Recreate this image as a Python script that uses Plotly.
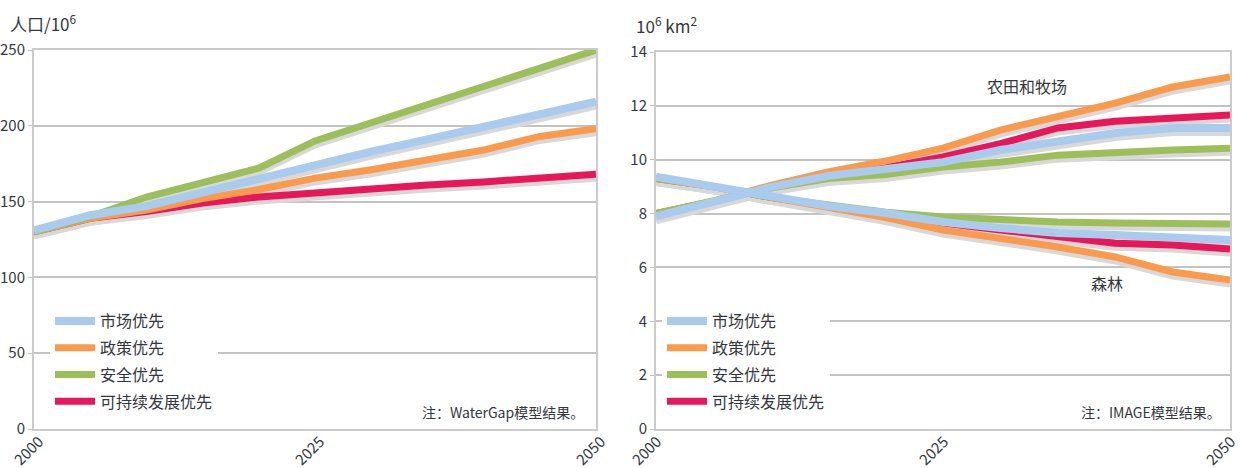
import base64
import plotly.graph_objects as go

# ---------------- data ----------------
years = [2000, 2005, 2010, 2015, 2020, 2025, 2030, 2035, 2040, 2045, 2050]
scenario_names = ["市场优先", "政策优先", "安全优先", "可持续发展优先"]

# left: population (10^6)
pop_market = [131, 141, 147, 156, 165, 175, 183, 191, 199, 207, 216]
pop_policy = [130, 139, 144.5, 152, 158, 165.5, 171, 177, 184, 193, 198]
pop_security = [130, 140, 153, 162, 172, 190, 202, 213, 225, 237, 250]
pop_sustain = [130, 139, 143.5, 149, 153, 156, 158.5, 161, 163, 165.5, 168]

# right: land area (10^6 km2)
crop_market = [7.9, 8.45, 8.98, 9.4, 9.65, 9.91, 10.36, 10.66, 10.99, 11.18, 11.18]
crop_policy = [8.0, 8.45, 9.05, 9.55, 9.95, 10.43, 11.1, 11.6, 12.1, 12.7, 13.07]
crop_security = [8.0, 8.45, 8.95, 9.3, 9.45, 9.73, 9.91, 10.17, 10.29, 10.36, 10.43]
crop_sustain = [8.0, 8.45, 8.98, 9.45, 9.7, 10.1, 10.6, 11.18, 11.43, 11.55, 11.66]

forest_market = [9.37, 9.0, 8.6, 8.28, 8.02, 7.69, 7.46, 7.28, 7.2, 7.13, 7.02]
forest_policy = [9.3, 9.0, 8.6, 8.22, 7.85, 7.39, 7.09, 6.76, 6.39, 5.83, 5.53]
forest_security = [9.3, 9.0, 8.6, 8.3, 8.05, 7.87, 7.76, 7.69, 7.65, 7.61, 7.61]
forest_sustain = [9.3, 9.0, 8.6, 8.28, 7.98, 7.65, 7.39, 7.13, 6.9, 6.83, 6.68]

x_ticks = [2000, 2025, 2050]
left_yticks = [0, 50, 100, 150, 200, 250]
right_yticks = [0, 2, 4, 6, 8, 10, 12, 14]
shade_start, shade_end = 2007, 2021

# ---------------- styles ----------------
COLORS = {"市场优先": "#a9cbee", "政策优先": "#f99a4c",
          "安全优先": "#9dbf5a", "可持续发展优先": "#e8175a"}
WIDTHS = {"市场优先": 8, "政策优先": 7, "安全优先": 7, "可持续发展优先": 7}
SHADOW = "#d8d8d8"
FONT = "Noto Sans CJK SC, sans-serif"
TXT = "#333840"
GRID = "#c3c3c3"
BORDER = "#cbcbcb"
W, H = 1240, 468
SHADOW_PX = 4

left_dom = [34 / W, 596 / W]
right_dom = [656 / W, 1230 / W]
left_ydom = [(H - 429) / H, (H - 50) / H]
right_ydom = [(H - 429) / H, (H - 52) / H]

fig = go.Figure()

draw_order = ["可持续发展优先", "政策优先", "安全优先", "市场优先"]
left_series = dict(zip(scenario_names, [pop_market, pop_policy, pop_security, pop_sustain]))
crop_series = dict(zip(scenario_names, [crop_market, crop_policy, crop_security, crop_sustain]))
forest_series = dict(zip(scenario_names, [forest_market, forest_policy, forest_security, forest_sustain]))

# shadows (on hidden, shifted axes)
for name in draw_order:
    fig.add_trace(go.Scatter(x=years, y=left_series[name], mode="lines", xaxis="x", yaxis="y",
                             line=dict(color=SHADOW, width=WIDTHS[name]), showlegend=False, hoverinfo="skip"))
    for ser in (crop_series, forest_series):
        fig.add_trace(go.Scatter(x=years, y=ser[name], mode="lines", xaxis="x2", yaxis="y2",
                                 line=dict(color=SHADOW, width=WIDTHS[name]), showlegend=False, hoverinfo="skip"))

# main lines
legend_order = {n: i for i, n in enumerate(scenario_names)}
for name in draw_order:
    fig.add_trace(go.Scatter(x=years, y=left_series[name], mode="lines", xaxis="x", yaxis="y3",
                             name=name, line=dict(color=COLORS[name], width=WIDTHS[name]),
                             legend="legend", legendgroup="L" + name, legendrank=legend_order[name]))
    fig.add_trace(go.Scatter(x=years, y=forest_series[name], mode="lines", xaxis="x2", yaxis="y4",
                             name=name, line=dict(color=COLORS[name], width=WIDTHS[name]),
                             showlegend=False, legendgroup="R" + name, legend="legend2"))
    fig.add_trace(go.Scatter(x=years, y=crop_series[name], mode="lines", xaxis="x2", yaxis="y4",
                             name=name, line=dict(color=COLORS[name], width=WIDTHS[name]),
                             legend="legend2", legendgroup="R" + name, legendrank=legend_order[name]))

# gradient band image
svg = ('<svg xmlns="http://www.w3.org/2000/svg" width="200" height="20" viewBox="0 0 200 20" '
       'preserveAspectRatio="none"><defs><linearGradient id="g" x1="0" x2="1" y1="0" y2="0">'
       '<stop offset="0" stop-color="#d7d8da"/><stop offset="0.45" stop-color="#e8e9ea"/>'
       '<stop offset="0.8" stop-color="#f6f6f6"/><stop offset="1" stop-color="#ffffff"/>'
       '</linearGradient></defs><rect width="200" height="20" fill="url(#g)"/></svg>')
src = "data:image/svg+xml;base64," + base64.b64encode(svg.encode()).decode()
images = []
for xr, yr in (("x", "y3"), ("x2", "y4")):
    images.append(dict(source=src, xref=xr, yref=yr + " domain", x=shade_start, y=1,
                       sizex=shade_end - shade_start, sizey=1, xanchor="left", yanchor="top",
                       sizing="stretch", layer="below"))

xcommon = dict(range=[2000, 2050], tickvals=x_ticks, tickangle=-45, showgrid=False,
               showline=True, linecolor=BORDER, linewidth=2, mirror=True, ticks="",
               tickfont=dict(family=FONT, size=15, color=TXT), zeroline=False,
               ticklabelstandoff=-4, ticklabeloverflow="allow",
               fixedrange=True, automargin=False)
ycommon = dict(showgrid=True, gridcolor=GRID, gridwidth=1.5, showline=True, linecolor=BORDER,
               linewidth=2, mirror=True, ticks="outside", ticklen=4, tickcolor=GRID,
               tickfont=dict(family=FONT, size=15, color=TXT), zeroline=False,
               fixedrange=True, automargin=False)

left_shift = SHADOW_PX * 250 / (379)
right_shift = SHADOW_PX * 14 / (377)

legend_common = dict(xanchor="left", yanchor="top", bgcolor="white", borderwidth=0,
                     font=dict(family=FONT, size=16, color=TXT), traceorder="grouped",
                     tracegroupgap=3, itemclick=False, itemdoubleclick=False, itemwidth=40)

fig.update_layout(
    template="none",
    width=W, height=H, margin=dict(l=0, r=0, t=0, b=0, pad=0, autoexpand=False),
    paper_bgcolor="white", plot_bgcolor="white", showlegend=True,
    xaxis=dict(domain=left_dom, anchor="y3", ticklabelshift=5, **xcommon),
    xaxis2=dict(domain=right_dom, anchor="y4", ticklabelshift=1, **xcommon),
    yaxis=dict(domain=left_ydom, range=[left_shift, 250 + left_shift], visible=False,
               anchor="x", fixedrange=True, automargin=False),
    yaxis2=dict(domain=right_ydom, range=[right_shift, 14 + right_shift], visible=False,
                anchor="x2", fixedrange=True, automargin=False),
    yaxis3=dict(domain=left_ydom, range=[0, 250], tickvals=left_yticks, overlaying="y",
                anchor="x", **ycommon),
    yaxis4=dict(domain=right_ydom, range=[0, 14], tickvals=right_yticks, overlaying="y2",
                anchor="x2", **ycommon),
    legend=dict(x=50 / W, y=(H - 304) / H, **legend_common),
    legend2=dict(x=662 / W, y=(H - 304) / H, **legend_common),
    images=images,
    annotations=[
        dict(text="人口/10<sup>6</sup>", x=8 / W, y=(H - 23) / H, xref="paper", yref="paper",
             xanchor="left", yanchor="middle", showarrow=False,
             font=dict(family=FONT, size=17, color=TXT)),
        dict(text="10<sup>6</sup> km<sup>2</sup>", x=634 / W, y=(H - 25) / H, xref="paper", yref="paper",
             xanchor="left", yanchor="middle", showarrow=False,
             font=dict(family=FONT, size=17, color=TXT)),
        dict(text="注：WaterGap模型结果。", x=586 / W, y=(H - 412) / H, xref="paper", yref="paper",
             xanchor="right", yanchor="middle", showarrow=False,
             font=dict(family=FONT, size=14, color=TXT)),
        dict(text="注：IMAGE模型结果。", x=1223 / W, y=(H - 412) / H, xref="paper", yref="paper",
             xanchor="right", yanchor="middle", showarrow=False,
             font=dict(family=FONT, size=14, color=TXT)),
        dict(text="农田和牧场", x=1027 / W, y=(H - 86) / H, xref="paper", yref="paper",
             xanchor="center", yanchor="middle", showarrow=False,
             font=dict(family=FONT, size=16, color=TXT)),
        dict(text="森林", x=1107 / W, y=(H - 283) / H, xref="paper", yref="paper",
             xanchor="center", yanchor="middle", showarrow=False,
             font=dict(family=FONT, size=16, color=TXT)),
    ],
)

fig.write_html("out.html", config={"displayModeBar": False},
               post_script="document.body.style.margin='0';")
